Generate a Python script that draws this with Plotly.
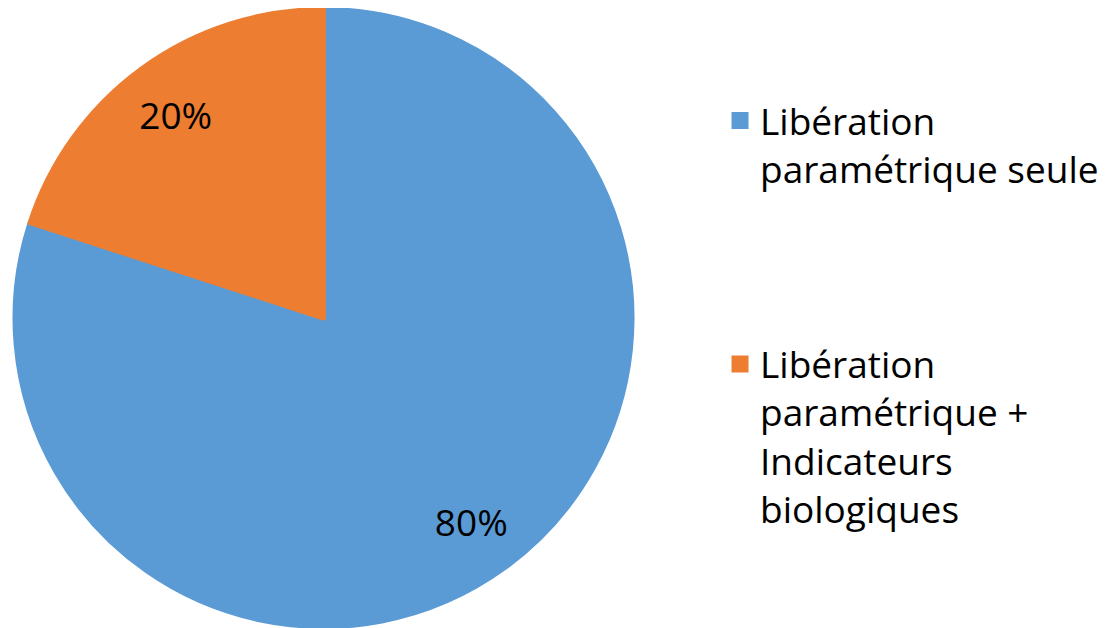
import plotly.graph_objects as go

labels = ["Libération<br>paramétrique seule<br> <br> <br> ",
          "Libération<br>paramétrique +<br>Indicateurs<br>biologiques"]
values = [80, 20]
colors = ["#5B9BD5", "#ED7D31"]

FONT = "Open Sans"
FS = 37

dom = dict(x=[0.00632, 0.5637], y=[0.0151, 0.9976])

# Filled pie (draws the slices and the legend)
fig = go.Figure(go.Pie(
    labels=labels,
    values=values,
    sort=False,
    direction="clockwise",
    rotation=0,
    marker=dict(colors=colors, line=dict(color=colors, width=5)),
    textinfo="none",
    domain=dom,
    hoverinfo="label+percent",
    showlegend=True,
))

# Same data, drawn as a transparent ring that only carries the percentage labels
fig.add_trace(go.Pie(
    labels=labels,
    values=values,
    sort=False,
    direction="clockwise",
    rotation=0,
    hole=0.63,
    marker=dict(colors=["rgba(0,0,0,0)", "rgba(0,0,0,0)"], line=dict(width=0)),
    textinfo="percent",
    textposition="inside",
    insidetextorientation="horizontal",
    textfont=dict(color="black", size=FS, family=FONT),
    domain=dom,
    hoverinfo="skip",
    showlegend=False,
))

fig.update_layout(
    width=1107, height=628,
    margin=dict(l=0, r=0, t=0, b=0),
    paper_bgcolor="white",
    plot_bgcolor="white",
    font=dict(family=FONT, size=FS, color="black"),
    legend=dict(x=0.6432, y=0.8696, xanchor="left", yanchor="top", valign="top",
                font=dict(size=FS, family=FONT, color="black"),
                itemwidth=30, tracegroupgap=0, bgcolor="rgba(0,0,0,0)"),
    uniformtext=dict(minsize=FS, mode="show"),
)

fig.write_html("out.html")
